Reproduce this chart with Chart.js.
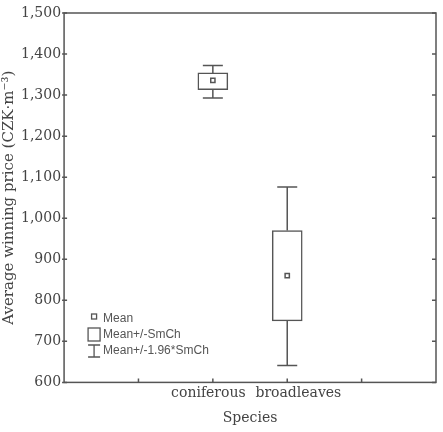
<!DOCTYPE html>
<html>
<head>
<meta charset="utf-8">
<script src="https://cdn.jsdelivr.net/npm/chart.js@4/dist/chart.umd.min.js"></script>
<style>
html,body{margin:0;padding:0;background:#fff;}
canvas{display:block;}
</style>
</head>
<body>
<canvas id="c" width="443" height="432"></canvas>
<script>
// ---- data ----
const categories = ['', '', 'coniferous', 'broadleaves', '', ''];
const means = [null, null, 1336, 860, null, null];
const boxLow = [null, null, 1313.5, 750, null, null];
const boxHigh = [null, null, 1354, 970, null, null];
const whiskerLow = [null, null, 1293, 641, null, null];
const whiskerHigh = [null, null, 1372, 1076, null, null];
const yTicks = [600, 700, 800, 900, 1000, 1100, 1200, 1300, 1400, 1500];
const legendLabels = ['Mean', 'Mean+/-SmCh', 'Mean+/-1.96*SmCh'];

const LINE = '#555';
const TEXT = '#444';
const SERIF = '"DejaVu Serif", serif';
const SANS = '"Liberation Sans", Arial, sans-serif';

const boxData = categories.map((c, i) => boxLow[i] == null ? null : [boxLow[i], boxHigh[i]]);

const framePlugin = {
  id: 'frame',
  beforeDatasetsDraw(chart) {
    const {ctx, scales: {x, y}} = chart;
    ctx.save();
    ctx.strokeStyle = LINE;
    ctx.lineWidth = 1.5;
    for (let i = 0; i < categories.length; i++) {
      if (whiskerLow[i] == null) continue;
      const px = x.getPixelForValue(i);
      const yl = y.getPixelForValue(whiskerLow[i]);
      const yh = y.getPixelForValue(whiskerHigh[i]);
      const bl = y.getPixelForValue(boxLow[i]);
      const bh = y.getPixelForValue(boxHigh[i]);
      ctx.beginPath();
      ctx.moveTo(px, bh); ctx.lineTo(px, yh);
      ctx.moveTo(px - 10, yh); ctx.lineTo(px + 10, yh);
      ctx.moveTo(px, bl); ctx.lineTo(px, yl);
      ctx.moveTo(px - 10, yl); ctx.lineTo(px + 10, yl);
      ctx.stroke();
    }
    ctx.restore();
  },
  afterDraw(chart) {
    const {ctx, chartArea: a, scales: {x, y}} = chart;
    ctx.save();
    ctx.strokeStyle = LINE;
    ctx.lineWidth = 1.5;
    ctx.strokeRect(a.left, a.top, a.right - a.left, a.bottom - a.top);
    ctx.beginPath();
    yTicks.forEach(v => {
      const py = y.getPixelForValue(v);
      ctx.moveTo(a.left - 2, py); ctx.lineTo(a.left + 3, py);
      ctx.moveTo(a.right, py); ctx.lineTo(a.right - 4, py);
    });
    for (let i = 1; i < categories.length - 1; i++) {
      const px = x.getPixelForValue(i);
      ctx.moveTo(px, a.bottom); ctx.lineTo(px, a.bottom - 4);
    }
    ctx.stroke();

    // legend
    const lx = a.left + 24;
    ctx.lineWidth = 1.3;
    ctx.strokeStyle = LINE;
    ctx.strokeRect(lx + 3.5, 314, 5, 5);
    ctx.strokeRect(lx, 328, 12, 13);
    ctx.beginPath();
    ctx.moveTo(lx + 6, 345); ctx.lineTo(lx + 6, 357);
    ctx.moveTo(lx, 345); ctx.lineTo(lx + 12, 345);
    ctx.moveTo(lx, 357); ctx.lineTo(lx + 12, 357);
    ctx.stroke();
    ctx.fillStyle = '#555';
    ctx.font = '12px ' + SANS;
    ctx.textBaseline = 'middle';
    ctx.textAlign = 'left';
    ctx.fillText(legendLabels[0], lx + 15, 319);
    ctx.fillText(legendLabels[1], lx + 15, 335);
    ctx.fillText(legendLabels[2], lx + 15, 351);
    ctx.restore();
  }
};

new Chart(document.getElementById('c'), {
  type: 'bar',
  data: {
    labels: categories,
    datasets: [
      {
        type: 'bar',
        data: boxData,
        backgroundColor: '#fff',
        borderColor: LINE,
        borderWidth: 1.5,
        borderSkipped: false,
        barThickness: 30,
        order: 2
      },
      {
        type: 'line',
        data: means,
        showLine: false,
        pointStyle: 'rect',
        pointRadius: 3,
        pointBackgroundColor: '#fff',
        pointBorderColor: LINE,
        pointBorderWidth: 1.5,
        order: 1
      }
    ]
  },
  options: {
    responsive: false,
    animation: false,
    layout: {padding: {top: 13, right: 7, left: 0, bottom: 5}},
    plugins: {legend: {display: false}, tooltip: {enabled: false}},
    scales: {
      x: {
        type: 'category',
        offset: false,
        grid: {display: false, drawTicks: false},
        border: {display: false},
        ticks: {
          color: TEXT,
          font: {family: SERIF, size: 14},
          padding: 3,
          maxRotation: 0,
          autoSkip: false,
          callback: (v, i) => i === 2 ? categories[i] + '  ' : (i === 3 ? '     ' + categories[i] : categories[i])
        },
        title: {
          display: true,
          text: 'Species',
          color: TEXT,
          font: {family: SERIF, size: 14},
          padding: {top: 5, bottom: 0}
        }
      },
      y: {
        min: 600,
        max: 1500,
        grid: {display: false, drawTicks: false},
        border: {display: false},
        afterBuildTicks(scale) { scale.ticks = yTicks.map(v => ({value: v})); },
        ticks: {
          color: TEXT,
          font: {family: SERIF, size: 14},
          padding: 3,
          callback: v => v.toLocaleString('en-US')
        },
        title: {
          display: true,
          text: 'Average winning price (CZK·m⁻³)',
          color: TEXT,
          font: {family: SERIF, size: 15},
          padding: {top: 0, bottom: 0}
        }
      }
    }
  },
  plugins: [framePlugin]
});
</script>
</body>
</html>
